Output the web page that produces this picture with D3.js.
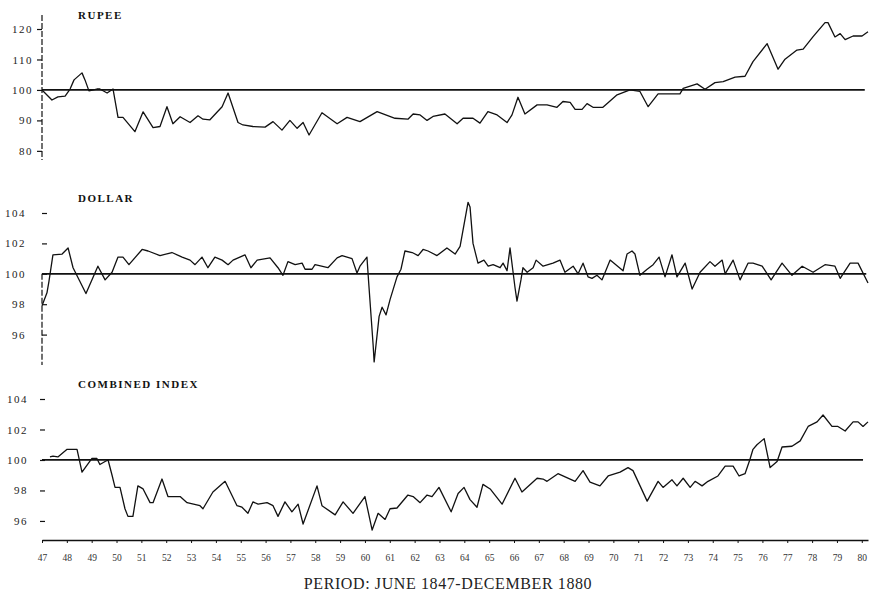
<!DOCTYPE html>
<html>
<head>
<meta charset="utf-8">
<script src="https://cdn.jsdelivr.net/npm/d3@7"></script>
<style>
  body { margin: 0; background: #fff; }
  svg { display: block; font-family: "Liberation Serif", "DejaVu Serif", serif; }
</style>
</head>
<body>
<svg id="chart" width="882" height="605"></svg>
<script>
// index values, [year, index]
const rupee = [
  [1847.50, 100], [1847.90, 96.7], [1848.14, 97.7], [1848.43, 98], [1848.63, 100.3],
  [1848.79, 103.3], [1849.11, 105.6], [1849.23, 103.3], [1849.39, 99.7], [1849.71, 100.3],
  [1849.83, 100.3], [1850.12, 99], [1850.36, 100.3], [1850.56, 91], [1850.76, 91],
  [1851.24, 86.3], [1851.57, 92.8], [1851.97, 87.6], [1852.25, 88], [1852.53, 94.5],
  [1852.77, 88.9], [1853.06, 91.2], [1853.46, 89.3], [1853.78, 91.5], [1853.98, 90.4],
  [1854.26, 90.2], [1854.75, 94.5], [1854.99, 99], [1855.39, 89.3], [1855.59, 88.5],
  [1855.99, 88], [1856.48, 87.8], [1856.80, 89.6], [1857.16, 86.8], [1857.48, 90],
  [1857.77, 87.4], [1858.01, 89.3], [1858.25, 85.2], [1858.77, 92.5], [1859.38, 88.9],
  [1859.78, 91], [1860.30, 89.6], [1860.99, 92.9], [1861.71, 90.7], [1862.23, 90.4],
  [1862.44, 92.1], [1862.72, 91.8], [1863.00, 90], [1863.24, 91.3], [1863.72, 92.1],
  [1864.21, 88.9], [1864.45, 90.7], [1864.85, 90.7], [1865.13, 89.1], [1865.45, 92.9],
  [1865.82, 91.8], [1866.22, 89.3], [1866.42, 91.8], [1866.66, 97.6], [1866.94, 92.1],
  [1867.43, 95.1], [1867.83, 95.1], [1868.23, 94.3], [1868.47, 96.2], [1868.76, 95.9],
  [1868.96, 93.6], [1869.24, 93.6], [1869.44, 95.5], [1869.68, 94.3], [1870.08, 94.3],
  [1870.65, 98.4], [1871.17, 100], [1871.57, 99.5], [1871.90, 94.5], [1872.30, 98.7],
  [1873.18, 98.7], [1873.31, 100.5], [1873.87, 102], [1874.19, 100.2], [1874.59, 102.4],
  [1874.92, 102.7], [1875.40, 104.2], [1875.80, 104.5], [1876.12, 109.3], [1876.69, 115.2],
  [1877.13, 106.8], [1877.41, 110.1], [1877.89, 113.1], [1878.14, 113.4], [1878.54, 117.5],
  [1879.02, 122.1], [1879.14, 122.1], [1879.42, 117.4], [1879.63, 118.5], [1879.83, 116.5],
  [1880.15, 117.7], [1880.51, 117.7], [1880.75, 119.1]
];

const dollar = [
  [1847.50, 97.9], [1847.70, 98.75], [1847.78, 99.5], [1847.94, 101.25], [1848.31, 101.3],
  [1848.55, 101.7], [1848.75, 100.4], [1849.27, 98.7], [1849.75, 100.5], [1850.04, 99.6],
  [1850.32, 100.1], [1850.56, 101.1], [1850.76, 101.1], [1851.00, 100.6], [1851.53, 101.6],
  [1851.77, 101.5], [1852.25, 101.2], [1852.73, 101.4], [1853.14, 101.1], [1853.46, 100.9],
  [1853.66, 100.6], [1853.94, 101.1], [1854.18, 100.4], [1854.46, 101.1], [1854.75, 100.9],
  [1854.99, 100.6], [1855.19, 100.9], [1855.67, 101.25], [1855.91, 100.4], [1856.16, 100.9],
  [1856.68, 101.05], [1857.00, 100.4], [1857.20, 99.9], [1857.40, 100.8], [1857.69, 100.6],
  [1857.97, 100.7], [1858.09, 100.3], [1858.37, 100.3], [1858.49, 100.6], [1859.01, 100.4],
  [1859.38, 101.05], [1859.58, 101.2], [1859.98, 101], [1860.18, 100.05], [1860.30, 100.5],
  [1860.58, 101.1], [1860.66, 99.2], [1860.83, 95.3], [1860.87, 94.2], [1861.07, 97.2],
  [1861.19, 97.8], [1861.35, 97.3], [1861.51, 98.3], [1861.79, 99.8], [1861.95, 100.3],
  [1862.11, 101.5], [1862.40, 101.4], [1862.64, 101.2], [1862.84, 101.6], [1863.04, 101.5],
  [1863.40, 101.2], [1863.80, 101.7], [1864.13, 101.3], [1864.33, 101.8], [1864.65, 104.7],
  [1864.73, 104.4], [1864.85, 102], [1865.05, 100.7], [1865.29, 100.9], [1865.46, 100.5],
  [1865.66, 100.6], [1865.94, 100.4], [1866.06, 100.7], [1866.22, 100.2], [1866.34, 101.7],
  [1866.54, 99.1], [1866.62, 98.2], [1866.78, 99.6], [1866.86, 100.4], [1867.03, 100.1],
  [1867.27, 100.4], [1867.39, 100.9], [1867.67, 100.5], [1868.07, 100.7], [1868.35, 100.9],
  [1868.55, 100.1], [1868.88, 100.5], [1869.08, 100], [1869.28, 100.7], [1869.48, 99.8],
  [1869.64, 99.7], [1869.84, 99.9], [1870.04, 99.6], [1870.17, 100.1], [1870.37, 100.9],
  [1870.89, 100.2], [1871.05, 101.3], [1871.25, 101.5], [1871.37, 101.3], [1871.57, 99.9],
  [1871.86, 100.3], [1872.10, 100.6], [1872.34, 101.1], [1872.58, 99.8], [1872.86, 101.25],
  [1873.06, 99.8], [1873.39, 100.7], [1873.67, 99.0], [1873.99, 100.1], [1874.39, 100.8],
  [1874.59, 100.5], [1874.88, 100.9], [1875.00, 100], [1875.32, 100.9], [1875.60, 99.6],
  [1875.92, 100.7], [1876.12, 100.7], [1876.49, 100.5], [1876.85, 99.6], [1877.29, 100.7],
  [1877.69, 99.9], [1878.10, 100.5], [1878.54, 100.1], [1879.02, 100.6], [1879.42, 100.5],
  [1879.63, 99.7], [1880.03, 100.7], [1880.35, 100.7], [1880.75, 99.4]
];

const combined = [
  [1847.82, 100.2], [1847.94, 100.25], [1848.14, 100.2], [1848.51, 100.7], [1848.91, 100.7],
  [1849.11, 99.2], [1849.51, 100.1], [1849.71, 100.1], [1849.83, 99.7], [1850.04, 99.9],
  [1850.16, 100], [1850.32, 99.0], [1850.44, 98.2], [1850.64, 98.2], [1850.84, 96.8],
  [1850.96, 96.3], [1851.16, 96.3], [1851.36, 98.3], [1851.57, 98.1], [1851.85, 97.2],
  [1851.97, 97.2], [1852.33, 98.75], [1852.57, 97.6], [1853.06, 97.6], [1853.34, 97.2],
  [1853.86, 97.0], [1853.98, 96.8], [1854.38, 97.9], [1854.87, 98.6], [1855.35, 97.0],
  [1855.55, 96.9], [1855.79, 96.5], [1855.99, 97.25], [1856.20, 97.1], [1856.56, 97.2],
  [1856.80, 97.0], [1857.00, 96.3], [1857.28, 97.25], [1857.56, 96.6], [1857.81, 97.1],
  [1858.01, 95.8], [1858.57, 98.3], [1858.77, 97.0], [1859.30, 96.4], [1859.62, 97.25],
  [1860.02, 96.5], [1860.50, 97.6], [1860.79, 95.4], [1861.03, 96.5], [1861.31, 96.1],
  [1861.51, 96.8], [1861.79, 96.85], [1862.23, 97.7], [1862.44, 97.6], [1862.72, 97.2],
  [1863.00, 97.7], [1863.20, 97.6], [1863.48, 98.2], [1863.97, 96.6], [1864.25, 97.8],
  [1864.49, 98.2], [1864.73, 97.4], [1865.01, 96.9], [1865.25, 98.4], [1865.54, 98.1],
  [1866.02, 97.1], [1866.54, 98.8], [1866.82, 97.9], [1867.43, 98.8], [1867.67, 98.75],
  [1867.83, 98.6], [1868.27, 99.1], [1868.96, 98.6], [1869.28, 99.3], [1869.56, 98.55],
  [1869.96, 98.3], [1870.29, 98.95], [1870.77, 99.2], [1871.09, 99.5], [1871.29, 99.3],
  [1871.86, 97.3], [1872.30, 98.6], [1872.50, 98.2], [1872.86, 98.7], [1873.06, 98.3],
  [1873.31, 98.8], [1873.59, 98.2], [1873.79, 98.6], [1874.07, 98.3], [1874.31, 98.6],
  [1874.71, 98.95], [1875.00, 99.6], [1875.32, 99.6], [1875.56, 98.95], [1875.80, 99.1],
  [1876.00, 100.05], [1876.12, 100.7], [1876.28, 101.0], [1876.57, 101.4], [1876.81, 99.5],
  [1877.09, 99.9], [1877.29, 100.85], [1877.69, 100.9], [1878.02, 101.25], [1878.34, 102.2],
  [1878.70, 102.5], [1878.94, 102.95], [1879.30, 102.2], [1879.54, 102.2], [1879.83, 101.9],
  [1880.15, 102.5], [1880.35, 102.5], [1880.55, 102.2], [1880.75, 102.5]
];

const tickYears = [1847, 1848, 1849, 1850, 1851, 1852, 1853, 1854, 1855, 1856, 1857, 1858,
  1859, 1860, 1861, 1862, 1863, 1864, 1865, 1866, 1867, 1868, 1869, 1870, 1871, 1872,
  1873, 1874, 1875, 1876, 1877, 1878, 1879, 1880];
const yearLabels = ['47', '48', '49', '50', '51', '52', '53', '54', '55', '56', '57', '58',
  '59', '60', '61', '62', '63', '64', '65', '66', '67', '68', '69', '70', '71', '72',
  '73', '74', '75', '76', '77', '78', '79', '80'];
const rupeeTicks = [80, 90, 100, 110, 120];
const dollarTicks = [96, 98, 100, 102, 104];
const combinedTicks = [96, 98, 100, 102, 104];
const panelTitles = ['RUPEE', 'DOLLAR', 'COMBINED INDEX'];
const periodTitle = 'PERIOD: JUNE 1847-DECEMBER 1880';
const baseValue = 100;

const svg = d3.select('#chart');
svg.append('rect').attr('width', 882).attr('height', 605).attr('fill', '#fff');

const x = d3.scaleLinear().domain([1847.5, 1880.75]).range([42, 868]);

// three stacked panels, each with its own vertical scale
const panels = [
  { title: panelTitles[0], data: rupee, ticks: rupeeTicks,
    y: d3.scaleLinear().domain([77, 124.6]).range([160, 15]),
    axisX: 42, pad: 4, spine: [124.6, 77], titleY: 18.5, refEnd: 1880.62 },
  { title: panelTitles[1], data: dollar, ticks: dollarTicks,
    y: d3.scaleLinear().domain([94, 104]).range([365, 213]),
    axisX: 47, pad: 16, spine: [100, 94], titleY: 202, refEnd: 1880.68 },
  { title: panelTitles[2], data: combined, ticks: combinedTicks,
    y: d3.scaleLinear().domain([94.75, 104]).range([540, 399]),
    axisX: 45, pad: 12, spine: null, titleY: 388, refEnd: 1880.55 }
];

const line = y => d3.line().x(d => x(d[0])).y(d => y(d[1]));

panels.forEach(p => {
  const g = svg.append('g');

  // y axis ticks
  const ax = g.append('g')
    .attr('transform', `translate(${p.axisX},0)`)
    .call(d3.axisLeft(p.y).tickValues(p.ticks).tickSize(5).tickPadding(p.pad));
  ax.select('.domain').remove();
  ax.selectAll('.tick line').attr('stroke', '#111').attr('stroke-width', 1.2);
  ax.selectAll('.tick text')
    .attr('font-size', 11)
    .attr('letter-spacing', 1.5)
    .attr('fill', '#222')
    .style('font-family', '"Liberation Serif", serif');

  if (p.spine) {
    g.append('line')
      .attr('x1', x(1847.5)).attr('x2', x(1847.5))
      .attr('y1', p.y(p.spine[0])).attr('y2', p.y(p.spine[1]))
      .attr('stroke', '#111').attr('stroke-width', 1.2)
      .attr('stroke-dasharray', '6,2');
  }

  // 100 reference line
  g.append('line')
    .attr('x1', x(1847.5)).attr('x2', x(p.refEnd))
    .attr('y1', p.y(baseValue)).attr('y2', p.y(baseValue))
    .attr('stroke', '#111').attr('stroke-width', 1.7);

  // series
  g.append('path')
    .datum(p.data)
    .attr('d', line(p.y))
    .attr('fill', 'none')
    .attr('stroke', '#111')
    .attr('stroke-width', 1.3)
    .attr('stroke-linejoin', 'round');

  // panel title
  g.append('text')
    .attr('x', 78).attr('y', p.titleY)
    .attr('font-size', 11)
    .attr('font-weight', 'bold')
    .attr('letter-spacing', 1.5)
    .attr('fill', '#111')
    .text(p.title);
});

// time axis along the bottom of the combined panel
const xa = svg.append('g')
  .attr('transform', `translate(0,${panels[2].y.range()[0]})`)
  .call(d3.axisBottom(x)
    .tickValues(tickYears.map(d => d + 0.5))
    .tickFormat((d, i) => yearLabels[i])
    .tickSize(3).tickSizeOuter(0).tickPadding(11));
xa.select('.domain').attr('stroke', '#111').attr('stroke-width', 1.6);
xa.selectAll('.tick line').attr('stroke', '#111');
xa.selectAll('.tick text')
  .attr('font-size', 9.5)
  .attr('fill', '#333')
  .style('font-family', '"Liberation Serif", serif');

svg.append('text')
  .attr('x', 448).attr('y', 589)
  .attr('text-anchor', 'middle')
  .attr('font-size', 16)
  .attr('letter-spacing', 0.6)
  .attr('fill', '#222')
  .text(periodTitle);
</script>
</body>
</html>
